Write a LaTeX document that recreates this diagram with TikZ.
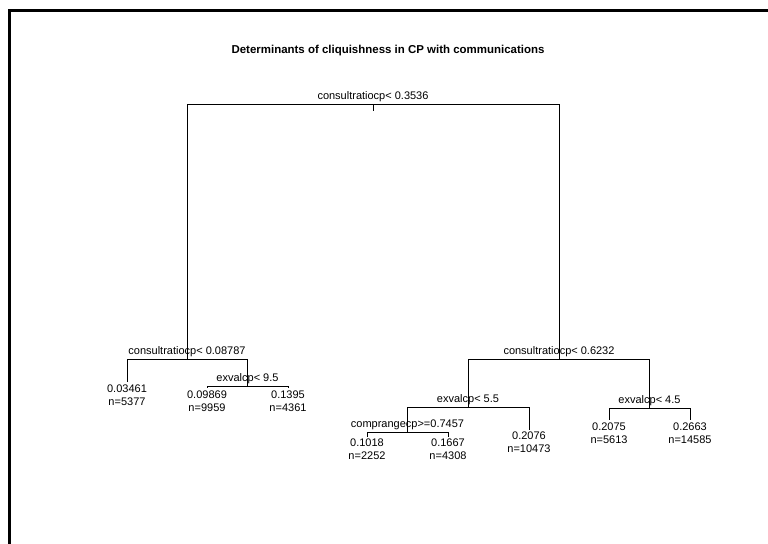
\documentclass[tikz,border=0pt]{standalone}
\usepackage{fontspec}
\setmainfont{Liberation Sans}
\usetikzlibrary{calc}
\begin{document}
\begin{tikzpicture}[x=0.75pt,y=-0.75pt,
  branch/.style={line width=0.75pt},
  frameline/.style={line width=1.9pt},
  txt/.style={font=\fontsize{8.25}{10}\selectfont, anchor=base, inner sep=0pt},
  heading/.style={font=\bfseries\fontsize{8.6}{11}\selectfont, anchor=base, inner sep=0pt},
]
\useasboundingbox (0,0) rectangle (768,543);
\clip (0,0) rectangle (768,543);

% outer frame (only top and left edges fall inside the page)
\coordinate (fbl) at (9.7,560);
\coordinate (ftr) at (790,10.5);
\draw[frameline] (fbl) |- (ftr);

% title
\node[heading] (title) at (388,53) {Determinants of cliquishness in CP with communications};

% tree node positions
\coordinate (root) at (373,104);
\coordinate (rtick) at (373,111);
\coordinate (n2) at (187,359);
\coordinate (n3) at (559,359);
\coordinate (l1) at (127,382);
\coordinate (n5) at (247.5,386);
\coordinate (l2) at (207,388);
\coordinate (l3) at (288,388);
\coordinate (n6) at (468,407);
\coordinate (n7) at (649.5,408);
\coordinate (n8) at (407.5,432);
\coordinate (l6) at (529,430);
\coordinate (l4) at (367,437);
\coordinate (l5) at (448,437);
\coordinate (l7) at (609,420);
\coordinate (l8) at (690,420);

% branches
\draw[branch] (root) -- (rtick);
\draw[branch] (root) -| (n2);
\draw[branch] (root) -| (n3);
\draw[branch] (n2) -| (l1);
\draw[branch] (n2) -| (n5);
\draw[branch] (n5) -| (l2);
\draw[branch] (n5) -| (l3);
\draw[branch] (n3) -| (n6);
\draw[branch] (n3) -| (n7);
\draw[branch] (n6) -| (n8);
\draw[branch] (n6) -| (l6);
\draw[branch] (n8) -| (l4);
\draw[branch] (n8) -| (l5);
\draw[branch] (n7) -| (l7);
\draw[branch] (n7) -| (l8);

% split labels
\node[txt] (s-root) at ($(root)+(0,-4.5)$) {consultratiocp< 0.3536};
\node[txt] (s-n2) at ($(n2)+(0,-4.5)$) {consultratiocp< 0.08787};
\node[txt] (s-n3) at ($(n3)+(0,-4.5)$) {consultratiocp< 0.6232};
\node[txt] (s-n5) at ($(n5)+(0,-4.5)$) {exvalcp< 9.5};
\node[txt] (s-n6) at ($(n6)+(0,-4.5)$) {exvalcp< 5.5};
\node[txt] (s-n7) at ($(n7)+(0,-4.5)$) {exvalcp< 4.5};
\node[txt] (s-n8) at ($(n8)+(0,-4.5)$) {comprangecp>=0.7457};

% leaf labels
\node[txt] (v-l1) at ($(l1)+(0,10)$) {0.03461};
\node[txt] (c-l1) at ($(l1)+(0,23)$) {n=5377};
\node[txt] (v-l2) at ($(l2)+(0,10)$) {0.09869};
\node[txt] (c-l2) at ($(l2)+(0,23)$) {n=9959};
\node[txt] (v-l3) at ($(l3)+(0,10)$) {0.1395};
\node[txt] (c-l3) at ($(l3)+(0,23)$) {n=4361};
\node[txt] (v-l4) at ($(l4)+(0,9)$) {0.1018};
\node[txt] (c-l4) at ($(l4)+(0,22)$) {n=2252};
\node[txt] (v-l5) at ($(l5)+(0,9)$) {0.1667};
\node[txt] (c-l5) at ($(l5)+(0,22)$) {n=4308};
\node[txt] (v-l6) at ($(l6)+(0,9)$) {0.2076};
\node[txt] (c-l6) at ($(l6)+(0,22)$) {n=10473};
\node[txt] (v-l7) at ($(l7)+(0,10)$) {0.2075};
\node[txt] (c-l7) at ($(l7)+(0,23.5)$) {n=5613};
\node[txt] (v-l8) at ($(l8)+(0,10)$) {0.2663};
\node[txt] (c-l8) at ($(l8)+(0,23.5)$) {n=14585};
\end{tikzpicture}
\end{document}
